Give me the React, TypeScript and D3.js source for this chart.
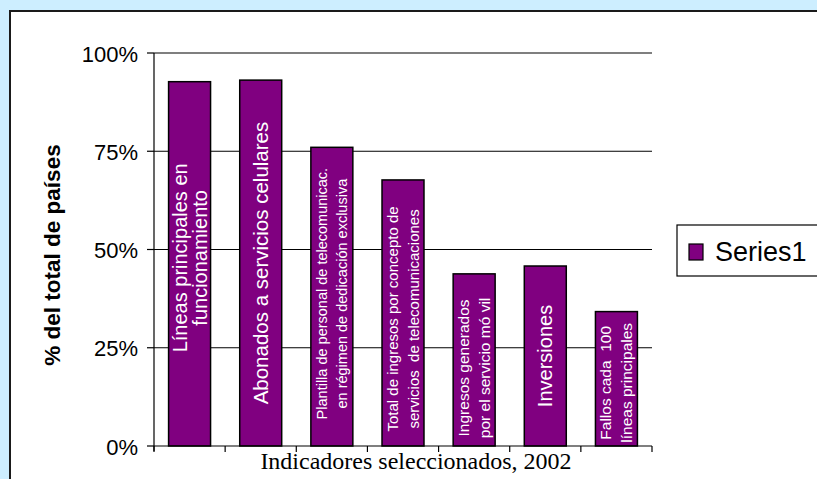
import React from "react";
import * as d3 from "d3";

const categories = [
  "Líneas principales en funcionamiento",
  "Abonados a servicios celulares",
  "Plantilla de personal de telecomunicac. en régimen de dedicación exclusiva",
  "Total de ingresos por concepto de servicios de telecomunicaciones",
  "Ingresos generados por el servicio móvil",
  "Inversiones",
  "Fallos cada 100 líneas principales",
];
const values = [0.927, 0.931, 0.76, 0.677, 0.438, 0.458, 0.342];
const labelLines = [
  ["Líneas principales en", "funcionamiento"],
  ["Abonados a servicios celulares"],
  ["Plantilla de personal de telecomunicac.", "en régimen de dedicación exclusiva"],
  ["Total de ingresos por concepto de", "servicios  de telecomunicaciones"],
  ["Ingresos generados", "por el servicio mó vil"],
  ["Inversiones"],
  ["Fallos cada  100", "líneas principales"],
];
const yTicks = [0, 0.25, 0.5, 0.75, 1];
const seriesName = "Series1";
const yTitle = "% del total de países";
const xTitle = "Indicadores seleccionados, 2002";

const labelFont = [20, 20.5, 14.5, 15, 15.5, 20, 15.5];
const labelLH = [20, 20, 20, 21, 21, 20, 21];
const labelShift = [-6, 0, -3, 6, 8, 0, 4];

const W = 817;
const H = 479;
const BAR = "#800080";

export default function App() {
  const x = d3
    .scaleBand<string>()
    .domain(categories)
    .range([154, 652])
    .paddingInner(0.41)
    .paddingOuter(0.205);
  const y = d3.scaleLinear().domain([0, 1]).range([446, 53]);
  const fmt = d3.format(".0%");
  const step = x.step();
  const tickXs = d3.range(categories.length + 1).map((i) => 154 + i * step);

  return (
    <svg
      width={W}
      height={H}
      style={{ position: "fixed", left: 0, top: 0, display: "block" }}
      fontFamily="Arial, 'Liberation Sans', sans-serif"
    >
      <rect x={0} y={0} width={W} height={H} fill="#cdeeff" />
      <rect x={10} y={11} width={W + 20} height={H + 20} fill="#ffffff" stroke="#1a1a1a" strokeWidth={2} />

      {/* gridlines */}
      {yTicks.filter((t) => t > 0).map((t) => (
        <line key={"g" + t} x1={154} x2={652} y1={y(t)} y2={y(t)} stroke="#000" strokeWidth={1.2} />
      ))}

      {/* bars */}
      {categories.map((c, i) => (
        <rect
          key={c}
          x={x(c)}
          y={y(values[i])}
          width={x.bandwidth()}
          height={y(0) - y(values[i])}
          fill={BAR}
          stroke="#000"
          strokeWidth={1.5}
        />
      ))}

      {/* bar labels */}
      {categories.map((c, i) => {
        const cx = (x(c) as number) + x.bandwidth() / 2;
        const cy = (y(values[i]) + y(0)) / 2 + labelShift[i];
        const lines = labelLines[i];
        const lh = labelLH[i];
        return (
          <g key={"l" + c} transform={`translate(${cx},${cy}) rotate(-90)`}>
            {lines.map((ln, j) => (
              <text
                key={j}
                x={0}
                y={(j - (lines.length - 1) / 2) * lh}
                textAnchor="middle"
                dominantBaseline="central"
                fill="#ffffff"
                fontSize={labelFont[i]}
                style={{ whiteSpace: "pre" }}
              >
                {ln}
              </text>
            ))}
          </g>
        );
      })}

      {/* axes */}
      <line x1={154} x2={154} y1={y(1)} y2={y(0) + 5} stroke="#000" strokeWidth={1.2} />
      <line x1={154} x2={652} y1={y(0)} y2={y(0)} stroke="#000" strokeWidth={1.2} />
      {yTicks.map((t) => (
        <g key={"t" + t}>
          <line x1={147} x2={154} y1={y(t)} y2={y(t)} stroke="#000" strokeWidth={1.2} />
          <text x={138} y={y(t) + 1} textAnchor="end" dominantBaseline="central" fontSize={22} fill="#000">
            {fmt(t)}
          </text>
        </g>
      ))}
      {tickXs.map((tx, i) => (
        <line key={"xt" + i} x1={tx} x2={tx} y1={y(0)} y2={y(0) + 6} stroke="#000" strokeWidth={1.2} />
      ))}

      <text
        transform={`translate(52,255) rotate(-90)`}
        textAnchor="middle"
        dominantBaseline="central"
        fontSize={22.5}
        fontWeight="bold"
        fill="#000"
      >
        {yTitle}
      </text>
      <text
        x={416}
        y={469}
        textAnchor="middle"
        fontFamily="'Times New Roman', 'Liberation Serif', serif"
        fontSize={24}
        fill="#000"
      >
        {xTitle}
      </text>

      {/* legend */}
      <rect x={677} y={225} width={200} height={51} fill="#fff" stroke="#000" strokeWidth={1.2} />
      <rect x={689} y={244} width={14} height={16} fill={BAR} stroke="#000" strokeWidth={1.2} />
      <text x={715} y={252} dominantBaseline="central" fontSize={27} fill="#000">
        {seriesName}
      </text>
    </svg>
  );
}
